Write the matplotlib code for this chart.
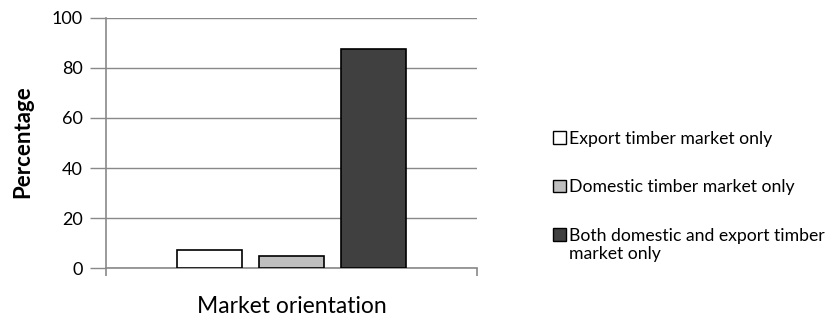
import matplotlib
matplotlib.use("Agg")
import matplotlib.pyplot as plt
from matplotlib.patches import Patch, Rectangle
from matplotlib.legend_handler import HandlerPatch

categories = ["Export timber market only", "Domestic timber market only",
              "Both domestic and export timber\nmarket only"]
values = [7.3, 5.0, 87.5]
colors = ["#ffffff", "#bfbfbf", "#404040"]
yticks = [0, 20, 40, 60, 80, 100]

plt.rcParams['font.family'] = ['Lato', 'DejaVu Sans']

fig = plt.figure(figsize=(8.34, 3.21), dpi=100)
ax = fig.add_axes([0.127, 0.165, 0.445, 0.779])

width = 0.175
offsets = [-0.22, 0.0, 0.22]
handles = []
for off, v, c, lab in zip(offsets, values, colors, categories):
    ax.bar(off, v, width=width, color=c, edgecolor="black", linewidth=1.2, zorder=3)
    handles.append(Patch(facecolor=c, edgecolor="black", linewidth=1.0, label=lab))

ax.set_xlim(-0.5, 0.5)
ax.set_ylim(0, 100)
ax.set_yticks(yticks)
ax.set_yticklabels([str(t) for t in yticks], fontsize=13)
ax.yaxis.grid(True, color="#898989", linewidth=1.0, zorder=0)
ax.set_xticks([-0.5, 0.5])
ax.set_xticklabels(["", ""])
ax.tick_params(axis='x', direction='out', length=6, color="#898989", width=1.2)
ax.tick_params(axis='y', direction='out', length=11.5, color="#898989", width=1.0, pad=5)
for s in ["top", "right"]:
    ax.spines[s].set_visible(False)
for s in ["left", "bottom"]:
    ax.spines[s].set_color("#898989")
    ax.spines[s].set_linewidth(1.2)

ax.set_ylabel("Percentage", fontsize=16, fontweight="bold")
ax.yaxis.set_label_coords(-0.197, 0.505)
ax.set_xlabel("Market orientation", fontsize=16.5)
ax.xaxis.set_label_coords(0.5, -0.11)


def make_box(legend, orig_handle, xdescent, ydescent, width, height, fontsize):
    nlines = len(orig_handle.get_label().split("\n"))
    shift = (nlines - 1) * fontsize * 0.6
    return Rectangle((-xdescent, -ydescent + shift), width, height)


leg = fig.legend(handles=handles, loc="upper left", bbox_to_anchor=(0.655, 0.615),
                 frameon=False, fontsize=12.7, handlelength=0.7, handleheight=0.7,
                 handletextpad=0.2, labelspacing=1.85, borderaxespad=0,
                 handler_map={Patch: HandlerPatch(patch_func=make_box)})
for t in leg.get_texts():
    t.set_linespacing(1.15)

fig.savefig("out.png", dpi=100)
